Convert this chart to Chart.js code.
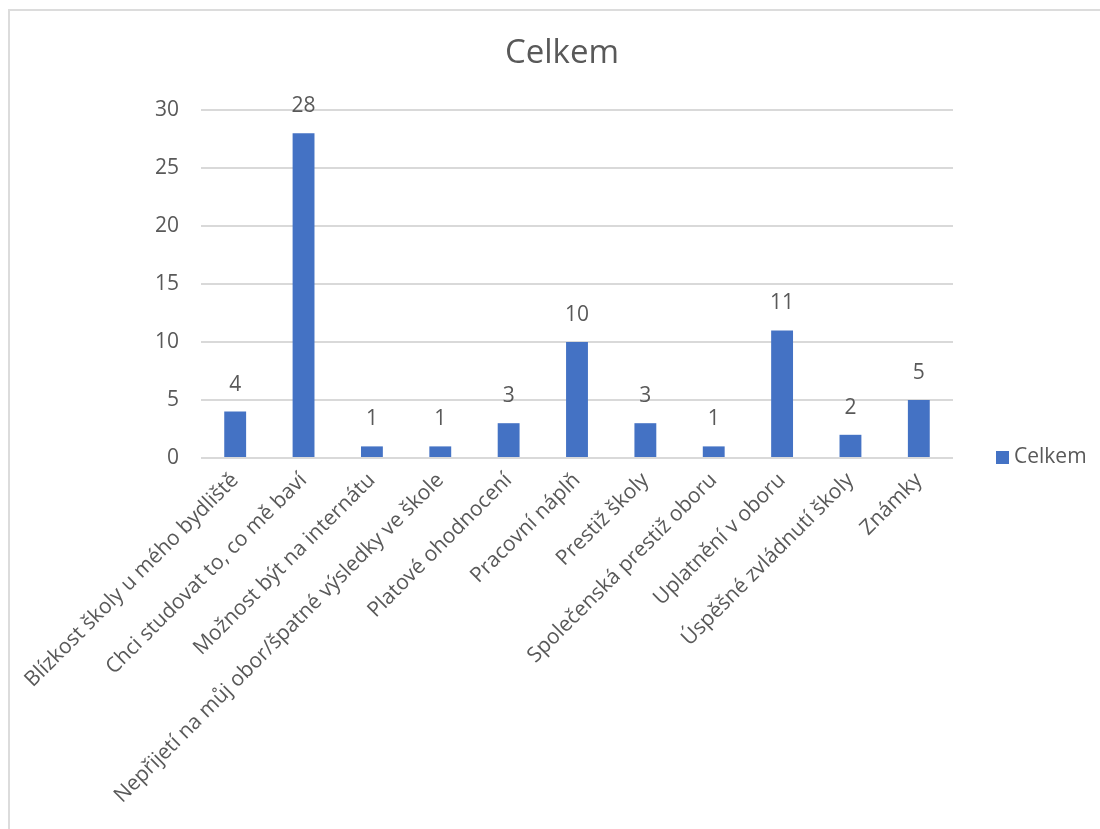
<!DOCTYPE html>
<html>
<head>
<meta charset="utf-8">
<script src="https://cdn.jsdelivr.net/npm/chart.js@4/dist/chart.umd.min.js"></script>
<style>
html,body{margin:0;padding:0;background:#fff;overflow:hidden;}
#frame{position:absolute;left:8px;top:9px;width:1200px;height:900px;border:2px solid #dcdcdc;}
#wrap{position:absolute;left:0;top:0;width:1100px;height:829px;}
</style>
</head>
<body>
<div id="frame"></div>
<div id="wrap"><canvas id="c"></canvas></div>
<script>
// data
const categories=["Blízkost školy u mého bydliště","Chci studovat to, co mě baví","Možnost být na internátu",
  "Nepřijetí na můj obor/špatné výsledky ve škole","Platové ohodnocení","Pracovní náplň","Prestiž školy",
  "Společenská prestiž oboru","Uplatnění v oboru","Úspěšné zvládnutí školy","Známky"];
const seriesName="Celkem";
const chartTitle="Celkem";
const values=[4,28,1,1,3,10,3,1,11,2,5];
const yTicks=[0,5,10,15,20,25,30];

const txt="#595959",blue="#4472C4",fam="'Open Sans', 'Noto Sans', sans-serif";

// title, value labels and legend drawn excel-style
const extras={id:"extras",afterDatasetsDraw(ch){
  const ctx=ch.ctx,meta=ch.getDatasetMeta(0),ds=ch.data.datasets[0];
  ctx.save();ctx.fillStyle=txt;ctx.textAlign="center";ctx.textBaseline="middle";
  ctx.font="21px "+fam;
  meta.data.forEach((b,i)=>ctx.fillText(String(values[i]),b.x,b.y-27));
  ctx.font="33px "+fam;ctx.fillText(chartTitle,562,54);
  ctx.fillStyle=ds.backgroundColor;ctx.fillRect(996,451,13,13);
  ctx.fillStyle=txt;ctx.font="21px "+fam;ctx.textAlign="left";
  ctx.fillText(ds.label,1014,457);
  ctx.restore();
}};

new Chart(document.getElementById("c"),{type:"bar",
  data:{labels:categories,datasets:[{label:seriesName,data:values,backgroundColor:blue,barPercentage:0.64,categoryPercentage:0.5}]},
  options:{responsive:true,maintainAspectRatio:false,animation:false,
    layout:{padding:{left:0,right:147,top:110,bottom:0}},
    plugins:{legend:{display:false},tooltip:{enabled:false},title:{display:false}},
    scales:{
      x:{grid:{display:false},border:{display:false},
        ticks:{color:txt,font:{family:fam,size:21},minRotation:45,maxRotation:45,autoSkip:false,padding:2},
        afterFit:s=>{s.height=829-458;}},
      y:{min:0,max:30,border:{display:false},grid:{color:"#d9d9d9",lineWidth:2,drawTicks:false},
        afterBuildTicks:s=>{s.ticks=yTicks.map(v=>({value:v}));},
        ticks:{color:txt,font:{family:fam,size:21},padding:22},
        afterFit:s=>{s.width=201;}}
    }},
  plugins:[extras]});
</script>
</body>
</html>
